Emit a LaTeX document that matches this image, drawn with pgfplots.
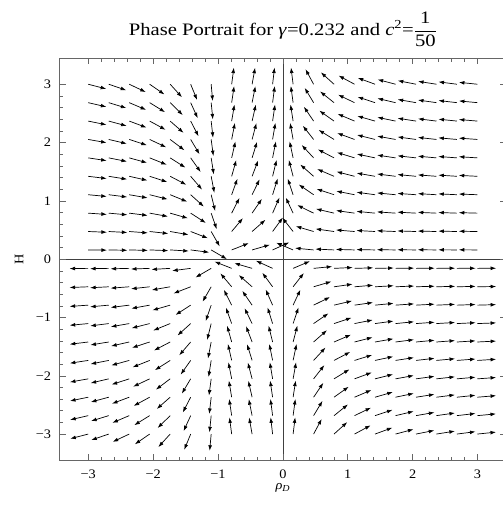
\documentclass[border=0pt]{standalone}
\usepackage{pgfplots}
\pgfplotsset{compat=1.18}
\usepackage{fontspec}
\setmainfont{Liberation Serif}[FakeStretch=1.1]
\newfontfamily\titlefont{Liberation Serif}[FakeStretch=1.18]
\usetikzlibrary{arrows.meta}

% arrow field: tail x y, vector u v (data units)
\pgfplotstableread{
x y u v
-3.000 3.000 0.277 -0.080
-3.000 2.684 0.279 -0.072
-3.000 2.368 0.281 -0.064
-3.000 2.053 0.283 -0.056
-3.000 1.737 0.284 -0.048
-3.000 1.421 0.285 -0.039
-3.000 1.105 0.286 -0.030
-3.000 0.789 0.287 -0.022
-3.000 0.474 0.288 -0.013
-3.000 0.158 0.288 -0.004
-2.684 3.000 0.269 -0.103
-2.684 2.684 0.272 -0.093
-2.684 2.368 0.276 -0.083
-2.684 2.053 0.279 -0.073
-2.684 1.737 0.281 -0.062
-2.684 1.421 0.283 -0.051
-2.684 1.105 0.285 -0.040
-2.684 0.789 0.287 -0.029
-2.684 0.474 0.287 -0.017
-2.684 0.158 0.288 -0.006
-2.368 3.000 0.255 -0.134
-2.368 2.684 0.260 -0.123
-2.368 2.368 0.266 -0.111
-2.368 2.053 0.271 -0.098
-2.368 1.737 0.275 -0.084
-2.368 1.421 0.279 -0.070
-2.368 1.105 0.283 -0.055
-2.368 0.789 0.285 -0.040
-2.368 0.474 0.287 -0.024
-2.368 0.158 0.288 -0.008
-2.053 3.000 0.228 -0.175
-2.053 2.684 0.237 -0.163
-2.053 2.368 0.246 -0.149
-2.053 2.053 0.255 -0.134
-2.053 1.737 0.263 -0.117
-2.053 1.421 0.271 -0.098
-2.053 1.105 0.277 -0.078
-2.053 0.789 0.282 -0.057
-2.053 0.474 0.286 -0.035
-2.053 0.158 0.288 -0.012
-1.737 3.000 0.182 -0.223
-1.737 2.684 0.194 -0.213
-1.737 2.368 0.206 -0.201
-1.737 2.053 0.220 -0.185
-1.737 1.737 0.235 -0.167
-1.737 1.421 0.249 -0.145
-1.737 1.105 0.262 -0.119
-1.737 0.789 0.274 -0.088
-1.737 0.474 0.283 -0.055
-1.737 0.158 0.287 -0.019
-1.421 3.000 0.099 -0.270
-1.421 2.684 0.109 -0.266
-1.421 2.368 0.121 -0.261
-1.421 2.053 0.136 -0.254
-1.421 1.737 0.154 -0.243
-1.421 1.421 0.176 -0.228
-1.421 1.105 0.203 -0.204
-1.421 0.789 0.234 -0.168
-1.421 0.474 0.264 -0.114
-1.421 0.158 0.285 -0.041
-1.105 3.000 0.023 -0.287
-1.105 2.684 0.026 -0.287
-1.105 2.368 0.029 -0.287
-1.105 2.053 0.034 -0.286
-1.105 1.737 0.040 -0.285
-1.105 1.421 0.049 -0.284
-1.105 1.105 0.062 -0.281
-1.105 0.789 0.085 -0.275
-1.105 0.474 0.132 -0.256
-1.105 0.158 0.242 -0.157
-0.789 3.000 0.034 0.286
-0.789 2.684 0.038 0.285
-0.789 2.368 0.043 0.285
-0.789 2.053 0.050 0.284
-0.789 1.737 0.058 0.282
-0.789 1.421 0.071 0.279
-0.789 1.105 0.089 0.274
-0.789 0.789 0.120 0.262
-0.789 0.474 0.174 0.230
-0.789 0.158 0.264 0.116
-0.474 3.000 0.046 0.284
-0.474 2.684 0.051 0.283
-0.474 2.368 0.058 0.282
-0.474 2.053 0.066 0.280
-0.474 1.737 0.077 0.277
-0.474 1.421 0.093 0.272
-0.474 1.105 0.116 0.264
-0.474 0.789 0.151 0.245
-0.474 0.474 0.206 0.201
-0.474 0.158 0.274 0.089
-0.158 3.000 0.030 0.287
-0.158 2.684 0.033 0.286
-0.158 2.368 0.038 0.285
-0.158 2.053 0.043 0.285
-0.158 1.737 0.051 0.283
-0.158 1.421 0.062 0.281
-0.158 1.105 0.078 0.277
-0.158 0.789 0.106 0.268
-0.158 0.474 0.158 0.240
-0.158 0.158 0.257 0.130
0.158 3.000 -0.032 0.286
0.158 2.684 -0.035 0.286
0.158 2.368 -0.040 0.285
0.158 2.053 -0.046 0.284
0.158 1.737 -0.054 0.283
0.158 1.421 -0.066 0.280
0.158 1.105 -0.083 0.276
0.158 0.789 -0.112 0.265
0.158 0.474 -0.166 0.236
0.158 0.158 -0.260 0.123
0.474 3.000 -0.125 0.259
0.474 2.684 -0.137 0.253
0.474 2.368 -0.150 0.246
0.474 2.053 -0.166 0.235
0.474 1.737 -0.184 0.221
0.474 1.421 -0.206 0.202
0.474 1.105 -0.229 0.175
0.474 0.789 -0.253 0.138
0.474 0.474 -0.274 0.090
0.474 0.158 -0.286 0.031
0.789 3.000 -0.203 0.204
0.789 2.684 -0.215 0.192
0.789 2.368 -0.226 0.179
0.789 2.053 -0.238 0.163
0.789 1.737 -0.249 0.145
0.789 1.421 -0.260 0.124
0.789 1.105 -0.270 0.100
0.789 0.789 -0.278 0.073
0.789 0.474 -0.285 0.045
0.789 0.158 -0.288 0.015
1.105 3.000 -0.247 0.148
1.105 2.684 -0.254 0.136
1.105 2.368 -0.260 0.123
1.105 2.053 -0.266 0.109
1.105 1.737 -0.272 0.094
1.105 1.421 -0.277 0.079
1.105 1.105 -0.281 0.062
1.105 0.789 -0.285 0.045
1.105 0.474 -0.287 0.027
1.105 0.158 -0.288 0.009
1.421 3.000 -0.267 0.109
1.421 2.684 -0.270 0.099
1.421 2.368 -0.274 0.088
1.421 2.053 -0.277 0.077
1.421 1.737 -0.280 0.066
1.421 1.421 -0.283 0.055
1.421 1.105 -0.285 0.043
1.421 0.789 -0.286 0.031
1.421 0.474 -0.287 0.018
1.421 0.158 -0.288 0.006
1.737 3.000 -0.276 0.081
1.737 2.684 -0.279 0.073
1.737 2.368 -0.281 0.065
1.737 2.053 -0.282 0.057
1.737 1.737 -0.284 0.048
1.737 1.421 -0.285 0.040
1.737 1.105 -0.286 0.031
1.737 0.789 -0.287 0.022
1.737 0.474 -0.288 0.013
1.737 0.158 -0.288 0.004
2.053 3.000 -0.281 0.062
2.053 2.684 -0.283 0.055
2.053 2.368 -0.284 0.049
2.053 2.053 -0.285 0.043
2.053 1.737 -0.286 0.036
2.053 1.421 -0.287 0.030
2.053 1.105 -0.287 0.023
2.053 0.789 -0.288 0.017
2.053 0.474 -0.288 0.010
2.053 0.158 -0.288 0.003
2.368 3.000 -0.284 0.050
2.368 2.684 -0.285 0.045
2.368 2.368 -0.285 0.040
2.368 2.053 -0.286 0.035
2.368 1.737 -0.287 0.029
2.368 1.421 -0.287 0.024
2.368 1.105 -0.287 0.019
2.368 0.789 -0.288 0.014
2.368 0.474 -0.288 0.008
2.368 0.158 -0.288 0.003
2.684 3.000 -0.285 0.041
2.684 2.684 -0.286 0.037
2.684 2.368 -0.286 0.033
2.684 2.053 -0.287 0.028
2.684 1.737 -0.287 0.024
2.684 1.421 -0.287 0.020
2.684 1.105 -0.288 0.015
2.684 0.789 -0.288 0.011
2.684 0.474 -0.288 0.007
2.684 0.158 -0.288 0.002
3.000 3.000 -0.286 0.033
3.000 2.684 -0.286 0.030
3.000 2.368 -0.287 0.027
3.000 2.053 -0.287 0.023
3.000 1.737 -0.287 0.020
3.000 1.421 -0.288 0.016
3.000 1.105 -0.288 0.012
3.000 0.789 -0.288 0.009
3.000 0.474 -0.288 0.005
3.000 0.158 -0.288 0.002
}\uppertab

\pgfplotstableread{
x y u v
-3.000 -3.000 -0.277 -0.080
-3.000 -2.684 -0.279 -0.072
-3.000 -2.368 -0.281 -0.064
-3.000 -2.053 -0.283 -0.056
-3.000 -1.737 -0.284 -0.048
-3.000 -1.421 -0.285 -0.039
-3.000 -1.105 -0.286 -0.030
-3.000 -0.789 -0.287 -0.022
-3.000 -0.474 -0.288 -0.013
-3.000 -0.158 -0.288 -0.004
-2.684 -3.000 -0.269 -0.103
-2.684 -2.684 -0.272 -0.093
-2.684 -2.368 -0.276 -0.083
-2.684 -2.053 -0.279 -0.073
-2.684 -1.737 -0.281 -0.062
-2.684 -1.421 -0.283 -0.051
-2.684 -1.105 -0.285 -0.040
-2.684 -0.789 -0.287 -0.029
-2.684 -0.474 -0.287 -0.017
-2.684 -0.158 -0.288 -0.006
-2.368 -3.000 -0.255 -0.134
-2.368 -2.684 -0.260 -0.123
-2.368 -2.368 -0.266 -0.111
-2.368 -2.053 -0.271 -0.098
-2.368 -1.737 -0.275 -0.084
-2.368 -1.421 -0.279 -0.070
-2.368 -1.105 -0.283 -0.055
-2.368 -0.789 -0.285 -0.040
-2.368 -0.474 -0.287 -0.024
-2.368 -0.158 -0.288 -0.008
-2.053 -3.000 -0.228 -0.175
-2.053 -2.684 -0.237 -0.163
-2.053 -2.368 -0.246 -0.149
-2.053 -2.053 -0.255 -0.134
-2.053 -1.737 -0.263 -0.117
-2.053 -1.421 -0.271 -0.098
-2.053 -1.105 -0.277 -0.078
-2.053 -0.789 -0.282 -0.057
-2.053 -0.474 -0.286 -0.035
-2.053 -0.158 -0.288 -0.012
-1.737 -3.000 -0.182 -0.223
-1.737 -2.684 -0.194 -0.213
-1.737 -2.368 -0.206 -0.201
-1.737 -2.053 -0.220 -0.185
-1.737 -1.737 -0.235 -0.167
-1.737 -1.421 -0.249 -0.145
-1.737 -1.105 -0.262 -0.119
-1.737 -0.789 -0.274 -0.088
-1.737 -0.474 -0.283 -0.055
-1.737 -0.158 -0.287 -0.019
-1.421 -3.000 -0.099 -0.270
-1.421 -2.684 -0.109 -0.266
-1.421 -2.368 -0.121 -0.261
-1.421 -2.053 -0.136 -0.254
-1.421 -1.737 -0.154 -0.243
-1.421 -1.421 -0.176 -0.228
-1.421 -1.105 -0.203 -0.204
-1.421 -0.789 -0.234 -0.168
-1.421 -0.474 -0.264 -0.114
-1.421 -0.158 -0.285 -0.041
-1.105 -3.000 -0.023 -0.287
-1.105 -2.684 -0.026 -0.287
-1.105 -2.368 -0.029 -0.287
-1.105 -2.053 -0.034 -0.286
-1.105 -1.737 -0.040 -0.285
-1.105 -1.421 -0.049 -0.284
-1.105 -1.105 -0.062 -0.281
-1.105 -0.789 -0.085 -0.275
-1.105 -0.474 -0.132 -0.256
-1.105 -0.158 -0.242 -0.157
-0.789 -3.000 -0.034 0.286
-0.789 -2.684 -0.038 0.285
-0.789 -2.368 -0.043 0.285
-0.789 -2.053 -0.050 0.284
-0.789 -1.737 -0.058 0.282
-0.789 -1.421 -0.071 0.279
-0.789 -1.105 -0.089 0.274
-0.789 -0.789 -0.120 0.262
-0.789 -0.474 -0.174 0.230
-0.789 -0.158 -0.264 0.116
-0.474 -3.000 -0.046 0.284
-0.474 -2.684 -0.051 0.283
-0.474 -2.368 -0.058 0.282
-0.474 -2.053 -0.066 0.280
-0.474 -1.737 -0.077 0.277
-0.474 -1.421 -0.093 0.272
-0.474 -1.105 -0.116 0.264
-0.474 -0.789 -0.151 0.245
-0.474 -0.474 -0.206 0.201
-0.474 -0.158 -0.274 0.089
-0.158 -3.000 -0.030 0.287
-0.158 -2.684 -0.033 0.286
-0.158 -2.368 -0.038 0.285
-0.158 -2.053 -0.043 0.285
-0.158 -1.737 -0.051 0.283
-0.158 -1.421 -0.062 0.281
-0.158 -1.105 -0.078 0.277
-0.158 -0.789 -0.106 0.268
-0.158 -0.474 -0.158 0.240
-0.158 -0.158 -0.257 0.130
0.158 -3.000 0.032 0.286
0.158 -2.684 0.035 0.286
0.158 -2.368 0.040 0.285
0.158 -2.053 0.046 0.284
0.158 -1.737 0.054 0.283
0.158 -1.421 0.066 0.280
0.158 -1.105 0.083 0.276
0.158 -0.789 0.112 0.265
0.158 -0.474 0.166 0.236
0.158 -0.158 0.260 0.123
0.474 -3.000 0.125 0.259
0.474 -2.684 0.137 0.253
0.474 -2.368 0.150 0.246
0.474 -2.053 0.166 0.235
0.474 -1.737 0.184 0.221
0.474 -1.421 0.206 0.202
0.474 -1.105 0.229 0.175
0.474 -0.789 0.253 0.138
0.474 -0.474 0.274 0.090
0.474 -0.158 0.286 0.031
0.789 -3.000 0.203 0.204
0.789 -2.684 0.215 0.192
0.789 -2.368 0.226 0.179
0.789 -2.053 0.238 0.163
0.789 -1.737 0.249 0.145
0.789 -1.421 0.260 0.124
0.789 -1.105 0.270 0.100
0.789 -0.789 0.278 0.073
0.789 -0.474 0.285 0.045
0.789 -0.158 0.288 0.015
1.105 -3.000 0.247 0.148
1.105 -2.684 0.254 0.136
1.105 -2.368 0.260 0.123
1.105 -2.053 0.266 0.109
1.105 -1.737 0.272 0.094
1.105 -1.421 0.277 0.079
1.105 -1.105 0.281 0.062
1.105 -0.789 0.285 0.045
1.105 -0.474 0.287 0.027
1.105 -0.158 0.288 0.009
1.421 -3.000 0.267 0.109
1.421 -2.684 0.270 0.099
1.421 -2.368 0.274 0.088
1.421 -2.053 0.277 0.077
1.421 -1.737 0.280 0.066
1.421 -1.421 0.283 0.055
1.421 -1.105 0.285 0.043
1.421 -0.789 0.286 0.031
1.421 -0.474 0.287 0.018
1.421 -0.158 0.288 0.006
1.737 -3.000 0.276 0.081
1.737 -2.684 0.279 0.073
1.737 -2.368 0.281 0.065
1.737 -2.053 0.282 0.057
1.737 -1.737 0.284 0.048
1.737 -1.421 0.285 0.040
1.737 -1.105 0.286 0.031
1.737 -0.789 0.287 0.022
1.737 -0.474 0.288 0.013
1.737 -0.158 0.288 0.004
2.053 -3.000 0.281 0.062
2.053 -2.684 0.283 0.055
2.053 -2.368 0.284 0.049
2.053 -2.053 0.285 0.043
2.053 -1.737 0.286 0.036
2.053 -1.421 0.287 0.030
2.053 -1.105 0.287 0.023
2.053 -0.789 0.288 0.017
2.053 -0.474 0.288 0.010
2.053 -0.158 0.288 0.003
2.368 -3.000 0.284 0.050
2.368 -2.684 0.285 0.045
2.368 -2.368 0.285 0.040
2.368 -2.053 0.286 0.035
2.368 -1.737 0.287 0.029
2.368 -1.421 0.287 0.024
2.368 -1.105 0.287 0.019
2.368 -0.789 0.288 0.014
2.368 -0.474 0.288 0.008
2.368 -0.158 0.288 0.003
2.684 -3.000 0.285 0.041
2.684 -2.684 0.286 0.037
2.684 -2.368 0.286 0.033
2.684 -2.053 0.287 0.028
2.684 -1.737 0.287 0.024
2.684 -1.421 0.287 0.020
2.684 -1.105 0.288 0.015
2.684 -0.789 0.288 0.011
2.684 -0.474 0.288 0.007
2.684 -0.158 0.288 0.002
3.000 -3.000 0.286 0.033
3.000 -2.684 0.286 0.030
3.000 -2.368 0.287 0.027
3.000 -2.053 0.287 0.023
3.000 -1.737 0.287 0.020
3.000 -1.421 0.288 0.016
3.000 -1.105 0.288 0.012
3.000 -0.789 0.288 0.009
3.000 -0.474 0.288 0.005
3.000 -0.158 0.288 0.002
}\lowertab

\begin{document}
\begin{tikzpicture}
\begin{axis}[
  name=ax,
  scale only axis,
  width=446.3pt, height=401.7pt,
  xmin=-3.44, xmax=3.44, ymin=-3.445, ymax=3.445,
  axis line style={black!60, line width=0.6pt},
  tick style={black!60, line width=0.5pt},
  tick align=inside,
  major tick length=6pt, minor tick length=3.5pt,
  xtick={-3,-2,-1,0,1,2,3},
  xticklabels={−3,−2,−1,0,1,2,3},
  ytick={-3,-2,-1,0,1,2,3},
  yticklabels={−3,−2,−1,0,1,2,3},
  minor x tick num=4, minor y tick num=4,
  extra x ticks={0}, extra y ticks={0},
  extra x tick labels={}, extra y tick labels={},
  extra tick style={grid=major, major grid style={black!75, line width=0.6pt}},
  ticklabel style={font=\fontsize{13}{15}\selectfont},
  xticklabel style={anchor=base, yshift=-18.5pt},
  yticklabel style={anchor=east, inner sep=0pt, xshift=-8.5pt},
  title={Phase Portrait for \textit{γ}=0.232 and \textit{c}\textsuperscript{2}=${\displaystyle\frac{\hbox{1}}{\hbox{50}}}$},
  title style={at={(axis description cs:0.5,1.043)}, anchor=base, inner sep=0pt,
    font=\titlefont\fontsize{17.5}{20}\selectfont},
  xlabel={\textit{ρ}\textsubscript{\textit{D}}},
  xlabel style={at={(axis description cs:0.5,-0.0735)}, anchor=base, inner sep=0pt,
    font=\fontsize{13}{15}\selectfont},
  ylabel={H},
  ylabel style={at={(axis description cs:-0.0912,0.5)}, anchor=center, inner sep=0pt,
    font=\fontsize{13}{15}\selectfont},
]
  \addplot[black, line width=0.7pt, -{Latex[length=5.5pt,width=3.8pt]},
    quiver={u=\thisrow{u}, v=\thisrow{v}}] table {\uppertab};
  \addplot[black, line width=0.7pt, -{Latex[length=5.5pt,width=3.8pt]},
    quiver={u=\thisrow{u}, v=\thisrow{v}}] table {\lowertab};
\end{axis}
\pgfresetboundingbox
\path[use as bounding box] ([xshift=-59.7pt,yshift=-52pt]ax.south west)
  rectangle ([xshift=-3pt,yshift=58.3pt]ax.north east);
\end{tikzpicture}
\end{document}
